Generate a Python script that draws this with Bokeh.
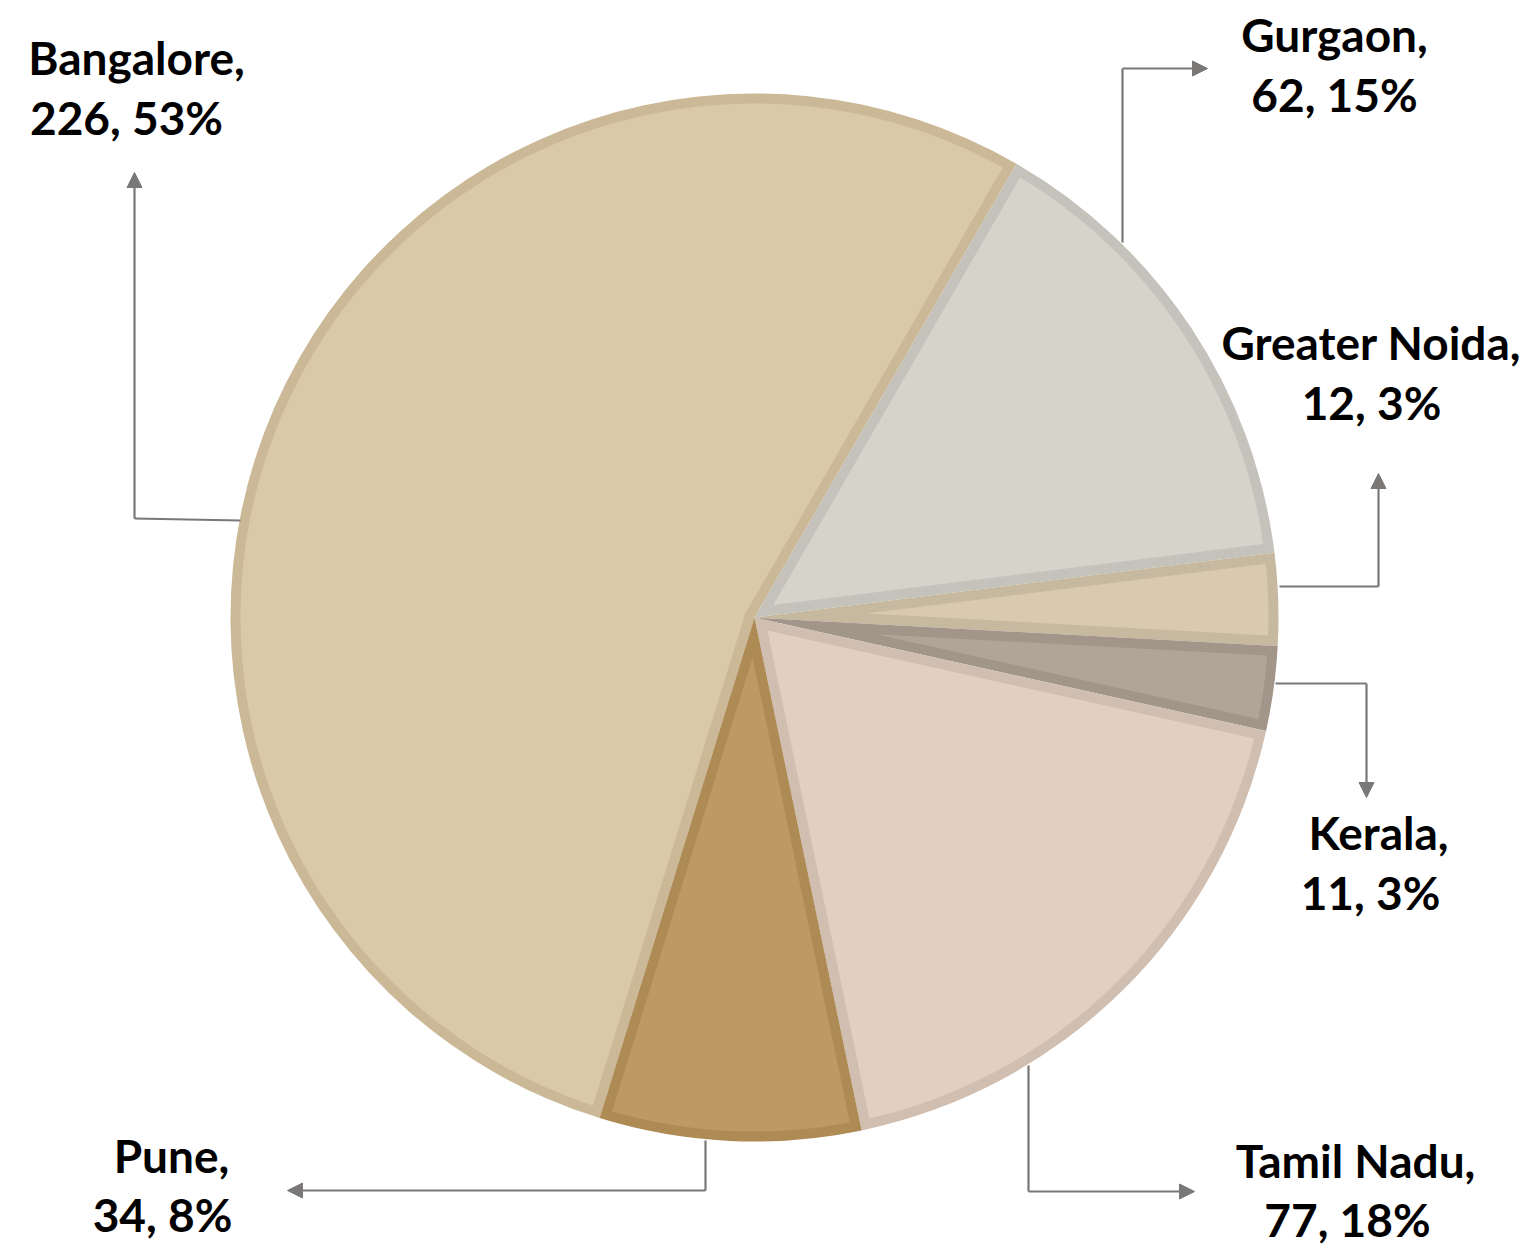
import math
from bokeh.plotting import figure
from bokeh.models import Range1d, Arrow, NormalHead, ColumnDataSource
from bokeh.core.properties import value
from bokeh.embed import file_html
from bokeh.resources import INLINE

# ---------------- data ----------------
categories = ["Bangalore", "Gurgaon", "Greater Noida", "Kerala", "Tamil Nadu", "Pune"]
counts = [226, 62, 12, 11, 77, 34]
percents = [53, 15, 3, 3, 18, 8]

# ---------------- styles ----------------
fill_colors = ["#DAC9A8", "#D6D3CA", "#D8C9B0", "#B1A598", "#E1CFC1", "#BE9961"]
border_colors = ["#CAB896", "#C4C2BA", "#C7B99F", "#A29589", "#D0BEB1", "#AE8A55"]
LEADER_COLOR = "#7A7777"
FONT = "Lato"
FONT_SIZE = "46px"
TEXT_DY = 18  # correction for how the text baseline is placed

# ---------------- layout (screen pixels) ----------------
W, H = 1530, 1246


def Y(sy):
    return H - sy


CX, CY = 754, Y(617)
R = 524
BORDER = 10
FIRST_ANGLE = math.radians(252.8)  # start of first slice, slices run clockwise

# leader paths (screen px) and label line anchors (center x, baseline y)
leaders = [
    [(240, 520), (134, 518), (134, 172)],
    [(1122, 242), (1122, 68), (1207, 68)],
    [(1279, 586), (1378, 586), (1378, 473)],
    [(1275, 683), (1366, 683), (1366, 797)],
    [(1028, 1065), (1028, 1191), (1194, 1191)],
    [(705, 1140), (705, 1190), (287, 1190)],
]
label_pos = [
    ((136, 75), (126, 135)),
    ((1334, 52), (1334, 112)),
    ((1371, 360), (1371, 420)),
    ((1378, 850), (1370, 910)),
    ((1355, 1178), (1347, 1237)),
    ((171, 1173), (162, 1232)),
]

p = figure(width=W, height=H, x_range=Range1d(0, W), y_range=Range1d(0, H),
           output_backend="svg", toolbar_location=None, min_border=0,
           x_axis_location=None, y_axis_location=None, tools="")
p.grid.visible = False
p.outline_line_color = None
p.background_fill_color = "white"
p.border_fill_color = "white"

total = sum(counts)
starts, ends = [], []
a = FIRST_ANGLE
for c in counts:
    span = 2 * math.pi * c / total
    ends.append(a)
    starts.append(a - span)
    a -= span


def linspace(a, b, n):
    return [a + (b - a) * i / (n - 1) for i in range(n)]


def inset_polygon(a0, a1, r, d):
    span = a1 - a0
    ri = r - d
    da = math.asin(d / ri)
    arc = [(CX + ri * math.cos(t), CY + ri * math.sin(t)) for t in linspace(a0 + da, a1 - da, 240)]
    if span < math.pi:
        h = span / 2
        s = d / math.sin(h)
        mid = a0 + h
        pts = [(CX + s * math.cos(mid), CY + s * math.sin(mid))] + arc
    else:
        inner = [(CX + d * math.cos(t), CY + d * math.sin(t))
                 for t in linspace(a1 - math.pi / 2, a0 + math.pi / 2, 40)]
        pts = arc + inner
    return [q[0] for q in pts], [q[1] for q in pts]


# outer (border-coloured) slices
outer_src = ColumnDataSource(dict(start=starts, end=ends, color=border_colors, name=categories))
p.wedge(x=CX, y=CY, radius=R, start_angle="start", end_angle="end",
        fill_color="color", line_color=None, source=outer_src)

# inner (fill-coloured) slices, inset by the border width
xs, ys = [], []
for a0, a1 in zip(starts, ends):
    px, py = inset_polygon(a0, a1, R, BORDER)
    xs.append(px)
    ys.append(py)
p.patches(xs="xs", ys="ys", fill_color="color", line_color=None,
          source=ColumnDataSource(dict(xs=xs, ys=ys, color=fill_colors)))

# leader lines with arrow heads
lx, ly = [], []
for path in leaders:
    lx.append([q[0] for q in path[:-1]])
    ly.append([Y(q[1]) for q in path[:-1]])
p.multi_line(xs=lx, ys=ly, line_color=LEADER_COLOR, line_width=2.2)
for path in leaders:
    (x0, y0), (x1, y1) = path[-2], path[-1]
    p.add_layout(Arrow(x_start=x0, y_start=Y(y0), x_end=x1, y_end=Y(y1),
                       line_color=LEADER_COLOR, line_width=2.2,
                       end=NormalHead(size=15, fill_color=LEADER_COLOR, line_color=LEADER_COLOR, line_width=1)))

# labels
tx, ty, tt = [], [], []
for cat, cnt, pct, (l1, l2) in zip(categories, counts, percents, label_pos):
    tx += [l1[0], l2[0]]
    ty += [Y(l1[1] - TEXT_DY), Y(l2[1] - TEXT_DY)]
    tt += [f"{cat},", f"{cnt}, {pct}%"]
p.text(x="x", y="y", text="t", source=ColumnDataSource(dict(x=tx, y=ty, t=tt)),
       text_font=value(FONT), text_font_size=FONT_SIZE, text_font_style="bold",
       text_align="center", text_baseline="alphabetic", text_color="#000000")

open("out.html", "w").write(file_html(p, INLINE))
